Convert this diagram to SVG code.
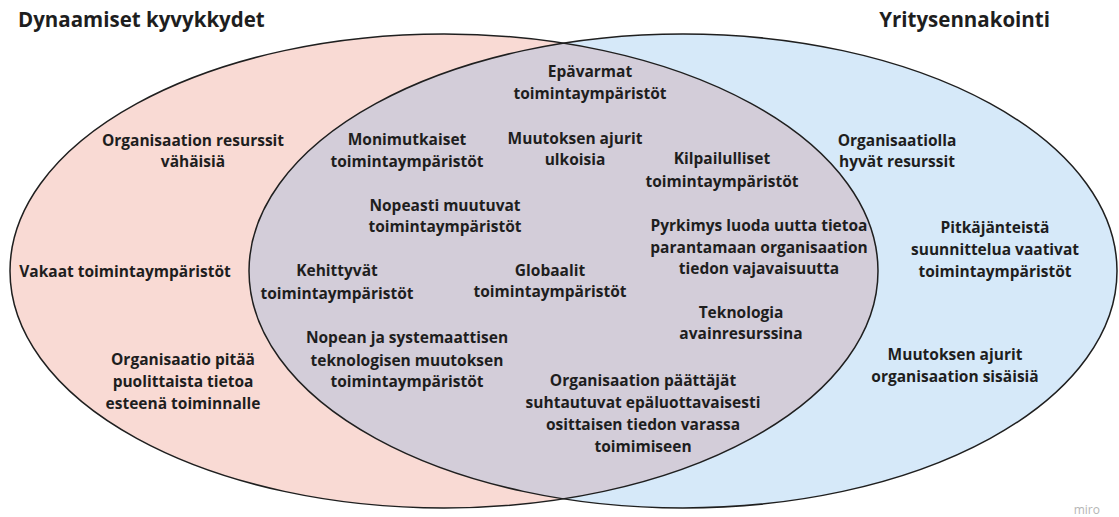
<svg xmlns="http://www.w3.org/2000/svg" width="1119" height="517" viewBox="0 0 1119 517">
<style>
.t{font-family:"Open Sans","Noto Sans","Liberation Sans",sans-serif;font-weight:700;font-size:15.5px;fill:#1e1e1e;text-anchor:middle}
.h{font-family:"Open Sans","Noto Sans","Liberation Sans",sans-serif;font-weight:700;font-size:20.5px;fill:#1e1e1e}
.edge{fill:none;stroke:#1f1f1f;stroke-width:1.5}
</style>
<defs>
<clipPath id="clipR"><ellipse cx="683" cy="271" rx="434" ry="237"/></clipPath>
</defs>
<rect width="1119" height="517" fill="#ffffff"/>
<g id="set-dynaamiset">
<ellipse cx="444" cy="271" rx="434" ry="237" fill="#f9dad4"/>
</g>
<g id="set-yritysennakointi">
<ellipse cx="683" cy="271" rx="434" ry="237" fill="#d6e9f9"/>
</g>
<g id="intersection">
<ellipse cx="444" cy="271" rx="434" ry="237" fill="#d3cdd9" clip-path="url(#clipR)"/>
</g>
<g id="outlines">
<ellipse class="edge" cx="444" cy="271" rx="434" ry="237"/>
<ellipse class="edge" cx="683" cy="271" rx="434" ry="237"/>
</g>
<g id="titles">
<text class="h" x="18" y="27">Dynaamiset kyvykkydet</text>
<text class="h" x="1050" y="27" text-anchor="end">Yritysennakointi</text>
</g>
<g id="left-only">
<text class="t" x="193" y="146">Organisaation resurssit</text>
<text class="t" x="193" y="167">vähäisiä</text>
<text class="t" x="125" y="277">Vakaat toimintaympäristöt</text>
<text class="t" x="183" y="365">Organisaatio pitää</text>
<text class="t" x="183" y="387">puolittaista tietoa</text>
<text class="t" x="183" y="409">esteenä toiminnalle</text>
</g>
<g id="overlap">
<text class="t" x="590" y="77">Epävarmat</text>
<text class="t" x="590" y="99">toimintaympäristöt</text>
<text class="t" x="407" y="145">Monimutkaiset</text>
<text class="t" x="407" y="167">toimintaympäristöt</text>
<text class="t" x="575" y="144">Muutoksen ajurit</text>
<text class="t" x="575" y="165">ulkoisia</text>
<text class="t" x="722" y="164">Kilpailulliset</text>
<text class="t" x="722" y="187">toimintaympäristöt</text>
<text class="t" x="445" y="211">Nopeasti muutuvat</text>
<text class="t" x="445" y="232">toimintaympäristöt</text>
<text class="t" x="759" y="231">Pyrkimys luoda uutta tietoa</text>
<text class="t" x="759" y="253">parantamaan organisaation</text>
<text class="t" x="759" y="274">tiedon vajavaisuutta</text>
<text class="t" x="337" y="276">Kehittyvät</text>
<text class="t" x="337" y="299">toimintaympäristöt</text>
<text class="t" x="550" y="276">Globaalit</text>
<text class="t" x="550" y="297">toimintaympäristöt</text>
<text class="t" x="741" y="318">Teknologia</text>
<text class="t" x="741" y="339">avainresurssina</text>
<text class="t" x="407" y="343">Nopean ja systemaattisen</text>
<text class="t" x="407" y="366">teknologisen muutoksen</text>
<text class="t" x="407" y="387">toimintaympäristöt</text>
<text class="t" x="643" y="386">Organisaation päättäjät</text>
<text class="t" x="643" y="408">suhtautuvat epäluottavaisesti</text>
<text class="t" x="643" y="430">osittaisen tiedon varassa</text>
<text class="t" x="643" y="452">toimimiseen</text>
</g>
<g id="right-only">
<text class="t" x="897" y="146">Organisaatiolla</text>
<text class="t" x="897" y="167">hyvät resurssit</text>
<text class="t" x="995" y="233">Pitkäjänteistä</text>
<text class="t" x="995" y="255">suunnittelua vaativat</text>
<text class="t" x="995" y="277">toimintaympäristöt</text>
<text class="t" x="955" y="360">Muutoksen ajurit</text>
<text class="t" x="955" y="382">organisaation sisäisiä</text>
</g>
<text x="1100" y="514" font-family="Open Sans, sans-serif" font-size="12" fill="#b5b5b5" text-anchor="end">miro</text>
</svg>
